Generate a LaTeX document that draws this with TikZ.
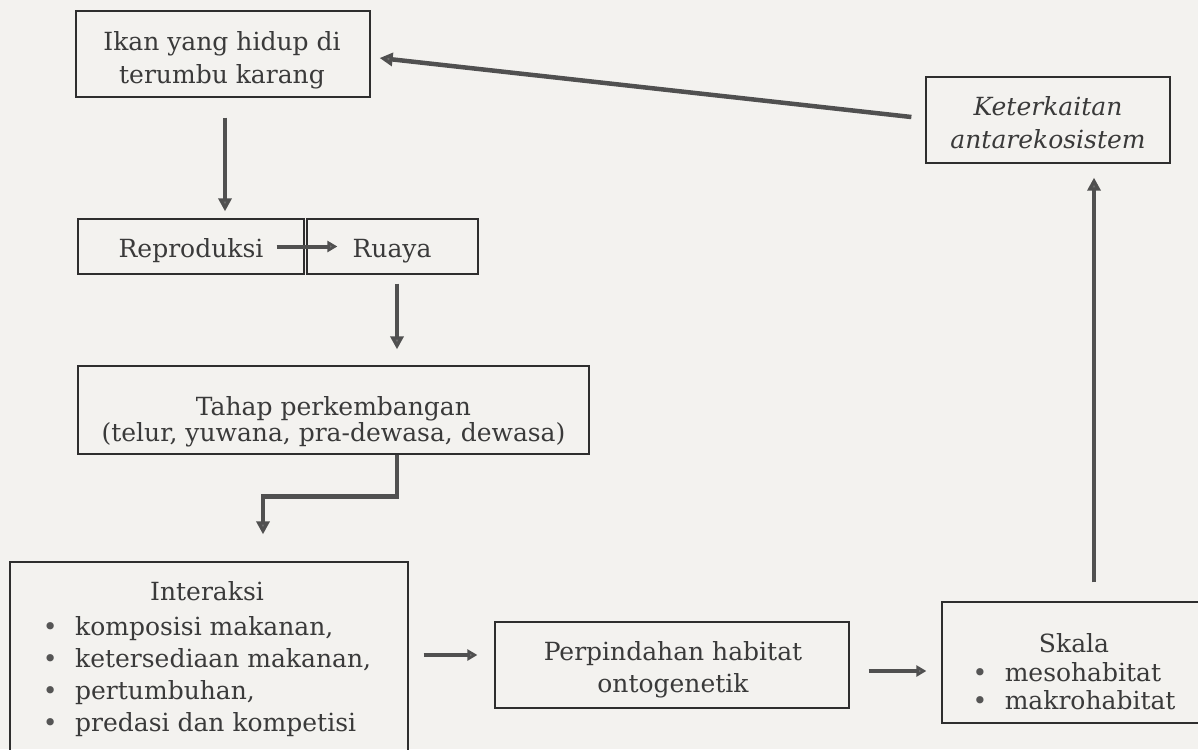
\documentclass[tikz,border=0pt]{standalone}
\usepackage{fontspec}
\setmainfont{DejaVu Serif}
\usetikzlibrary{arrows.meta}
\definecolor{paper}{HTML}{F3F2EF}
\definecolor{ink}{HTML}{2E2E2E}
\definecolor{txtc}{HTML}{3A3A3A}
\definecolor{bulc}{HTML}{555555}
\definecolor{arrc}{HTML}{505050}
\definecolor{arrh}{HTML}{707070}
\newcommand{\mylines}[1]{\begin{tabular}[t]{@{}c@{}}#1\end{tabular}}
\newcommand{\mylist}[2]{\begin{tabular}[t]{@{}l@{}}\multicolumn{1}{@{}c@{}}{#1}#2\end{tabular}}
\newcommand{\bul}{{\color{bulc}\textbullet}\hspace{0.7em}}
\begin{document}
\begin{tikzpicture}[x=1pt,y=-1pt,
  box/.style={draw=ink, line width=1.3pt, inner sep=0pt},
  lbl/.style={text=txtc, inner sep=0pt, anchor=base, font=\fontsize{25}{32.5}\selectfont},
  arr/.style={draw=arrc, line width=4.5pt,
    -{Triangle[length=13pt,width=13pt,fill=arrh]}},
  arrs/.style={draw=arrc, line width=4pt,
    -{Triangle[length=10pt,width=11pt,fill=arrh]}}]
\fill[paper] (0,0) rectangle (1198,749);
\useasboundingbox (0,0) rectangle (1198,749);

% boxes
\node[box, minimum width=294pt, minimum height=86pt] (box1) at (223,54) {};
\node[box, minimum width=226pt, minimum height=55pt] (repro) at (191,246.5) {};
\node[box, minimum width=171pt, minimum height=55pt] (ruaya) at (392.5,246.5) {};
\node[box, minimum width=511pt, minimum height=88pt] (tahap) at (333.5,410) {};
\node[box, minimum width=398pt, minimum height=240pt] (inter) at (209,682) {};
\node[box, minimum width=354pt, minimum height=86pt] (perp) at (672,665) {};
\node[box, minimum width=264pt, minimum height=121pt] (skala) at (1074,662.5) {};
\node[box, minimum width=244pt, minimum height=86pt] (keter) at (1048,120) {};

% texts
\node[lbl] (box1t) at (222,50.6) {\mylines{Ikan yang hidup di\\terumbu karang}};
\node[lbl] (reprot) at (191,257) {Reproduksi};
\node[lbl] (ruayat) at (392,257) {Ruaya};
\node[lbl, font=\fontsize{25}{26.5}\selectfont] (tahapt) at (333.5,415)
  {\mylines{Tahap perkembangan\\(telur, yuwana, pra-dewasa, dewasa)}};
\node[lbl, font=\fontsize{25}{32}\selectfont] (intert) at (207,600)
  {\mylist{Interaksi}{\\[3pt]
   \bul komposisi makanan,\\
   \bul ketersediaan makanan,\\
   \bul pertumbuhan,\\
   \bul predasi dan kompetisi}};
\node[lbl] (perpt) at (673,660) {\mylines{Perpindahan habitat\\ontogenetik}};
\node[lbl, font=\fontsize{25}{28}\selectfont] (skalat) at (1074,652)
  {\mylist{Skala}{\\[1pt]\bul mesohabitat\\\bul makrohabitat}};
\node[lbl] (rtert) at (1048,116)
  {\mylines{\textit{Keterkaitan}\\\textit{antarekosistem}}};

% connectors
\draw[arr] ([xshift=2pt,yshift=-20pt]box1.south) -- ([xshift=34pt,yshift=7pt]repro.north);
\draw[arrs] ([xshift=-28pt]repro.east) -- ([xshift=31pt]ruaya.west);
\draw[arr] ([xshift=4.5pt,yshift=-9pt]ruaya.south) -- ([xshift=63.5pt,yshift=16pt]tahap.north);
\draw[arr] ([xshift=63.5pt]tahap.south) |- ([xshift=54pt,yshift=65pt]inter.north)
  -- ([xshift=54pt,yshift=27pt]inter.north);
\draw[arrs] ([xshift=15pt,yshift=27pt]inter.east) -- ([xshift=-17pt,yshift=10pt]perp.west);
\draw[arrs] ([xshift=19pt,yshift=-6pt]perp.east) -- ([xshift=-15pt,yshift=-8.5pt]skala.west);
\draw[arr] ([xshift=20pt,yshift=19pt]skala.north) -- ([xshift=46pt,yshift=-14pt]keter.south);
\draw[arr] ([xshift=-14pt,yshift=3pt]keter.west) -- ([xshift=9pt,yshift=-4pt]box1.east);
\end{tikzpicture}
\end{document}
